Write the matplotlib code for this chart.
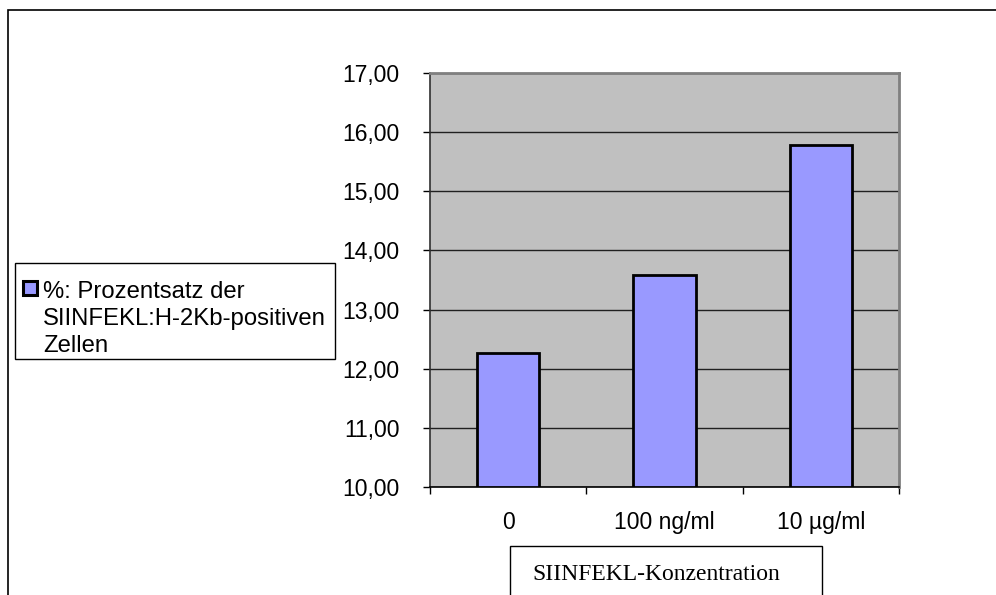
import matplotlib
matplotlib.use("Agg")
import matplotlib.pyplot as plt
from matplotlib.patches import Rectangle
import numpy as np

plt.rcParams['font.family'] = ['Liberation Sans', 'DejaVu Sans']

categories = ["0", "100 ng/ml", "10 µg/ml"]
values = [12.27, 13.59, 15.79]
y_ticks = [10, 11, 12, 13, 14, 15, 16, 17]
y_tick_labels = ["10,00", "11,00", "12,00", "13,00", "14,00", "15,00", "16,00", "17,00"]
series_label = ["%: Prozentsatz der", "SIINFEKL:H-2Kb-positiven", "Zellen"]
x_title = "SIINFEKL-Konzentration"

W, H = 996, 595
fig = plt.figure(figsize=(W / 100, H / 100), dpi=100)
fig.patch.set_facecolor("white")

def fx(px):
    return px / W

def fy(py):
    return 1 - py / H

# outer chart frame (runs off the right and bottom edges)
fig.patches.append(Rectangle((fx(8), fy(620)), fx(1020) - fx(8), fy(10) - fy(620),
                             transform=fig.transFigure, fill=False,
                             edgecolor="black", linewidth=1.2, zorder=0))

ax = fig.add_axes([fx(430), fy(487), fx(899) - fx(430), fy(73) - fy(487)])
ax.set_facecolor("#c0c0c0")

x = np.arange(len(categories))
ax.set_xlim(-0.5, len(categories) - 0.5)
ax.set_ylim(10, 17)

ax.set_yticks(y_ticks)
ax.set_yticklabels(y_tick_labels)
ax.yaxis.grid(True, color="#202020", linewidth=1.0)
ax.set_axisbelow(True)

ax.bar(x, [v - 10 for v in values], bottom=10, width=0.4, color="#9999ff",
       edgecolor="black", linewidth=2.0, zorder=3)

ax.set_xticks(x)
ax.set_xticklabels(categories)
ax.set_xticks(np.arange(-0.5, len(categories), 1.0), minor=True)
ax.tick_params(axis="x", which="major", length=0, pad=17, labelsize=16.5)
ax.tick_params(axis="x", which="minor", length=5, width=1, color="black", direction="out")
ax.tick_params(axis="y", which="major", length=5, width=1, color="black",
               direction="out", pad=17, labelsize=16.5)

for side in ("top", "right"):
    ax.spines[side].set_color("#808080")
    ax.spines[side].set_linewidth(2.0)
ax.spines["left"].set_color("#303030")
ax.spines["left"].set_linewidth(1.2)
ax.spines["bottom"].set_color("black")
ax.spines["bottom"].set_linewidth(1.2)

# legend box
fig.patches.append(Rectangle((fx(15), fy(359)), fx(335) - fx(15), fy(263) - fy(359),
                             transform=fig.transFigure, facecolor="white",
                             edgecolor="black", linewidth=1.0, zorder=2))
fig.patches.append(Rectangle((fx(23), fy(295)), fx(37) - fx(23), fy(281) - fy(295),
                             transform=fig.transFigure, facecolor="#9999ff",
                             edgecolor="black", linewidth=2.2, zorder=3))
for i, line in enumerate(series_label):
    fig.text(fx(43), fy(298 + 27 * i), line, ha="left", va="baseline",
             fontsize=17.2, zorder=4)

# axis title box
fig.patches.append(Rectangle((fx(510), fy(620)), fx(822) - fx(510), fy(546) - fy(620),
                             transform=fig.transFigure, facecolor="white",
                             edgecolor="black", linewidth=1.0, zorder=2))
fig.text(fx(532), fy(580), x_title, ha="left", va="baseline", fontsize=17,
         family=["Liberation Serif", "DejaVu Serif"], zorder=4)

fig.savefig("out.png", dpi=100)
